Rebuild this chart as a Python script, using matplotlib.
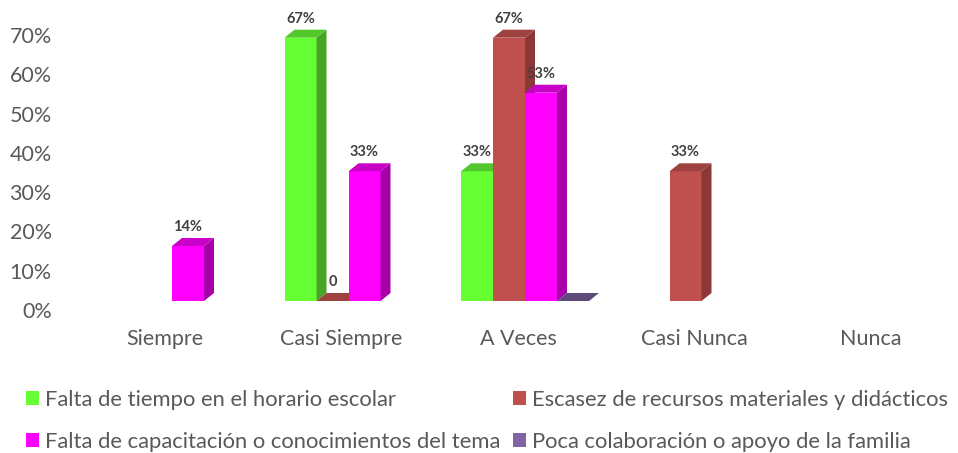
import matplotlib
matplotlib.use("Agg")
import matplotlib.pyplot as plt
from matplotlib.patches import Patch
import matplotlib.transforms as mtransforms

categories = ["Siempre", "Casi Siempre", "A Veces", "Casi Nunca", "Nunca"]
series_names = [
    "Falta de tiempo en el horario escolar",
    "Escasez de recursos materiales y didácticos",
    "Falta de capacitación o conocimientos del tema",
    "Poca colaboración o apoyo de la familia",
]
falta_tiempo = [None, 0.67, 0.33, None, None]
escasez = [None, 0.0, 0.67, 0.33, None]
capacitacion = [0.14, 0.33, 0.53, None, None]
colaboracion = [None, None, 0.0, None, None]
label_falta_tiempo = [None, "67%", "33%", None, None]
label_escasez = [None, "0", "67%", "33%", None]
label_capacitacion = ["14%", "33%", "53%", None, None]
label_colaboracion = [None, None, None, None, None]
yticks = [0, 0.1, 0.2, 0.3, 0.4, 0.5, 0.6, 0.7]

values = [falta_tiempo, escasez, capacitacion, colaboracion]
labels = [label_falta_tiempo, label_escasez, label_capacitacion, label_colaboracion]
front = ["#66FF33", "#C0504D", "#FF00FF", "#8064A2"]
side = ["#46A525", "#8C3836", "#A800A8", "#5C4778"]
top = ["#52C82A", "#9E4240", "#C800C8", "#604A7B"]

plt.rcParams["font.family"] = ["Lato", "DejaVu Sans"]

W, H = 958, 453
fig = plt.figure(figsize=(W / 100, H / 100), dpi=100)
# axes: left 60px .. right 950px ; top 10px .. bottom 301px
ax = fig.add_axes([60 / W, 1 - 301 / H, 890 / W, 291 / H])
px_per_cat = 176.5
x0 = (60 - 172) / px_per_cat
ax.set_xlim(x0, x0 + 890 / px_per_cat)
ymax = 291 / 393.0
ax.set_ylim(0, ymax)

bw = 32 / px_per_cat
ddx = 10 / px_per_cat
ddy = 8 / 393.0

for s, (vals, labs) in enumerate(zip(values, labels)):
    for i, v in enumerate(vals):
        if v is None:
            continue
        xl = i + (s - 2) * bw
        xr = xl + bw
        if v > 0:
            ax.add_patch(plt.Rectangle((xl, 0), bw, v, facecolor=front[s], edgecolor="none", zorder=3))
            ax.fill([xr, xr + ddx, xr + ddx, xr], [0, ddy, v + ddy, v], color=side[s], lw=0, zorder=3)
        ax.fill([xl, xr, xr + ddx, xl + ddx], [v, v, v + ddy, v + ddy], color=top[s], lw=0, zorder=3)
        if labs[i]:
            ax.annotate(labs[i], (xl + bw / 2, v + ddy), xytext=(0, 3),
                        textcoords="offset points", ha="center", va="bottom",
                        fontsize=10.5, fontweight="bold", color="#404040", zorder=5)

for sp in ax.spines.values():
    sp.set_visible(False)
ax.set_yticks(yticks)
ax.set_yticklabels([f"{t:.0%}" for t in yticks])
ax.tick_params(axis="y", length=0, labelsize=15.5, labelcolor="#595959", pad=6)
off = mtransforms.ScaledTranslation(0, -9 / 100, fig.dpi_scale_trans)
for lbl in ax.get_yticklabels():
    lbl.set_transform(lbl.get_transform() + off)
ax.set_xticks([i - 0.04 for i in range(len(categories))])
ax.set_xticklabels(categories)
ax.tick_params(axis="x", length=0, labelsize=15.5, labelcolor="#595959", pad=20)

order = [0, 2, 1, 3]
handles = [Patch(facecolor=front[k], edgecolor="none") for k in order]
names = [series_names[k] for k in order]
fig.legend(handles, names, loc="upper left", bbox_to_anchor=(26 / W, 1 - 390 / H),
           ncol=2, frameon=False, fontsize=15.8, labelcolor="#595959",
           handlelength=0.6, handleheight=0.6, handletextpad=0.25, columnspacing=0.6,
           labelspacing=1.0, borderaxespad=0, borderpad=0)

fig.savefig("out.png", dpi=100)
